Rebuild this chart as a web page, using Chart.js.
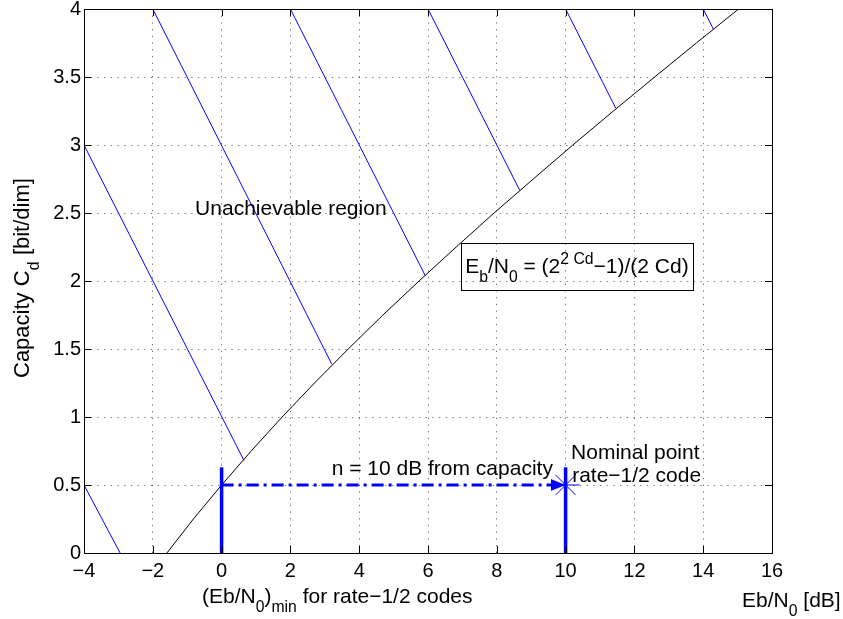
<!DOCTYPE html>
<html>
<head>
<meta charset="utf-8">
<script src="https://cdn.jsdelivr.net/npm/chart.js@4"></script>
<style>
  html, body { margin: 0; padding: 0; background: #fff; }
  canvas { display: block; }
</style>
</head>
<body>
<canvas id="chart" width="843" height="619"></canvas>
<script>
const xTicks = [-4, -2, 0, 2, 4, 6, 8, 10, 12, 14, 16]
const yTicks = [0, 0.5, 1, 1.5, 2, 2.5, 3, 3.5, 4]

// capacity limit: C_d against Eb/N0 in dB
const capC = [0, 0.25, 0.5, 0.75, 1, 1.25, 1.5, 1.75, 2, 2.25, 2.5, 2.75, 3, 3.25, 3.5, 3.75, 4]
const capEbN0 = [-1.59, -0.82, 0, 0.86, 1.76, 2.7, 3.68, 4.69, 5.74, 6.82, 7.92, 9.06, 10.21, 11.39, 12.59, 13.8, 15.03]

// hatch strokes of the unachievable region (start -> end on the curve)
const hatchX0 = [-4, -4, -2, 2, 6, 10, 14]
const hatchC0 = [0.5, 3, 4, 4, 4, 4, 4]
const hatchX1 = [-2.95, 0.65, 3.2, 5.92, 8.67, 11.46, 14.3]
const hatchC1 = [0, 0.68, 1.39, 2.04, 2.665, 3.27, 3.85]

// (Eb/N0)min and the nominal point of the rate-1/2 code
const markerX = [0, 10]
const markerTop = 0.63
const gapC = 0.5

const BLUE = "#0000ff"
const FONT = "'Liberation Sans', Arial, Helvetica, sans-serif"
const F = 21

// arrow head as a point image, tip at the image centre
const arrowImg = document.createElement("canvas")
arrowImg.width = 30
arrowImg.height = 14
{
  const c = arrowImg.getContext("2d")
  c.fillStyle = BLUE
  c.beginPath()
  c.moveTo(0, 1)
  c.lineTo(15, 7)
  c.lineTo(0, 13)
  c.closePath()
  c.fill()
}

const datasets = []

markerX.forEach((x) => {
  datasets.push({
    data: [{ x: x, y: 0 }, { x: x, y: markerTop }],
    borderColor: BLUE,
    borderWidth: 3.5,
  })
})

datasets.push({
  data: [{ x: markerX[0], y: gapC }, { x: markerX[1], y: gapC }],
  borderColor: BLUE,
  borderWidth: 3,
  borderDash: [12, 5, 3, 5],
})

datasets.push({
  data: [{ x: markerX[1], y: gapC }],
  showLine: false,
  pointStyle: arrowImg,
  pointRadius: 8,
})

datasets.push({
  data: [{ x: markerX[1], y: gapC }],
  showLine: false,
  pointStyle: "star",
  pointRadius: 14,
  pointBorderColor: BLUE,
  pointBorderWidth: 1,
})

datasets.push({
  data: capC.map((c, i) => ({ x: capEbN0[i], y: c })),
  borderColor: "#000",
  borderWidth: 1,
})

hatchX0.forEach((x0, i) => {
  datasets.push({
    data: [{ x: x0, y: hatchC0[i] }, { x: hatchX1[i], y: hatchC1[i] }],
    borderColor: BLUE,
    borderWidth: 1,
  })
})

// text with sub (1) and superscript (2) parts, y is the baseline
function drawRich(ctx, parts, x, y, size) {
  let cx = x
  for (const [t, m] of parts) {
    const s = m ? size * 0.75 : size
    ctx.font = `${s}px ${FONT}`
    const dy = m === 1 ? size * 0.45 : m === 2 ? -size * 0.45 : 0
    ctx.fillText(t, cx, y + dy)
    cx += ctx.measureText(t).width
  }
  return cx - x
}

const axesBox = {
  id: "axesBox",
  afterDatasetsDraw(chart) {
    const { ctx, chartArea: a, scales } = chart
    const tick = 7
    ctx.save()
    ctx.strokeStyle = "#000"
    ctx.lineWidth = 1
    ctx.beginPath()
    for (const v of xTicks) {
      const px = Math.round(scales.x.getPixelForValue(v)) + 0.5
      ctx.moveTo(px, a.bottom)
      ctx.lineTo(px, a.bottom - tick)
      ctx.moveTo(px, a.top)
      ctx.lineTo(px, a.top + tick)
    }
    for (const v of yTicks) {
      const py = Math.round(scales.y.getPixelForValue(v)) + 0.5
      ctx.moveTo(a.left, py)
      ctx.lineTo(a.left + tick, py)
      ctx.moveTo(a.right, py)
      ctx.lineTo(a.right - tick, py)
    }
    ctx.stroke()
    ctx.strokeRect(a.left + 0.5, a.top + 0.5, a.right - a.left, a.bottom - a.top)
    ctx.restore()
  },
  afterDraw(chart) {
    const { ctx, chartArea: a, scales } = chart
    const X = (v) => scales.x.getPixelForValue(v)
    const Y = (v) => scales.y.getPixelForValue(v)
    const mid = 0.35 * F
    ctx.save()
    ctx.fillStyle = "#000"
    ctx.textAlign = "left"
    ctx.textBaseline = "alphabetic"

    drawRich(ctx, [["Unachievable region", 0]], X(-0.77), Y(2.54) + mid, F)

    const eqBase = Y(2.113) + mid
    const eqLeft = X(7.08)
    const w = drawRich(ctx, [["E", 0], ["b", 1], ["/N", 0], ["0", 1], [" = (2", 0], ["2 Cd", 2], ["\u22121)/(2 Cd)", 0]], eqLeft, eqBase, F)
    ctx.strokeStyle = "#000"
    ctx.lineWidth = 1
    ctx.strokeRect(Math.round(eqLeft - 4) + 0.5, Math.round(eqBase - 30) + 0.5, Math.round(w + 8), 47)

    drawRich(ctx, [["n = 10 dB from capacity", 0]], X(3.2), Y(0.628) + mid, F)
    drawRich(ctx, [["Nominal point", 0]], X(10.16), Y(0.746) + mid, F)
    drawRich(ctx, [["rate\u22121/2 code", 0]], X(10.19), Y(0.576) + mid, F)

    drawRich(ctx, [["(Eb/N", 0], ["0", 1], [")", 0], ["min", 1], [" for rate\u22121/2 codes", 0]], X(-0.57), a.bottom + 50, F)
    drawRich(ctx, [["Eb/N", 0], ["0", 1], [" [dB]", 0]], X(15.13), a.bottom + 54, F)

    // y axis title, rotated
    ctx.translate(29, 378)
    ctx.rotate(-Math.PI / 2)
    drawRich(ctx, [["Capacity C", 0], ["d", 1], [" [bit/dim]", 0]], 0, 0, 22)
    ctx.restore()
  },
}

const fmt = (v) => String(v).replace("-", "\u2212")

new Chart(document.getElementById("chart"), {
  type: "scatter",
  data: { datasets: datasets.map((d) => Object.assign({ showLine: true, pointRadius: 0, tension: 0, fill: false }, d)) },
  options: {
    responsive: false,
    animation: false,
    events: [],
    layout: { autoPadding: false, padding: { left: 0, top: 9, right: 71, bottom: 0 } },
    plugins: { legend: { display: false }, tooltip: { enabled: false } },
    scales: {
      x: {
        type: "linear",
        min: -4,
        max: 16,
        afterBuildTicks: (s) => { s.ticks = xTicks.map((v) => ({ value: v })) },
        afterFit: (s) => { s.height = 66 },
        ticks: { font: { family: FONT, size: 20 }, color: "#000", padding: 6, maxRotation: 0, autoSkip: false, callback: fmt },
        grid: { color: "rgba(0,0,0,0.55)", lineWidth: 1, drawTicks: false },
        border: { display: false, dash: [1.3, 5.4] },
      },
      y: {
        type: "linear",
        min: 0,
        max: 4,
        afterBuildTicks: (s) => { s.ticks = yTicks.map((v) => ({ value: v })) },
        afterFit: (s) => { s.width = 84 },
        ticks: { font: { family: FONT, size: 20, lineHeight: 0.6 }, color: "#000", padding: 3, autoSkip: false, callback: fmt },
        grid: { color: "rgba(0,0,0,0.55)", lineWidth: 1, drawTicks: false },
        border: { display: false, dash: [1.3, 5.4] },
      },
    },
  },
  plugins: [axesBox],
})
</script>
</body>
</html>
